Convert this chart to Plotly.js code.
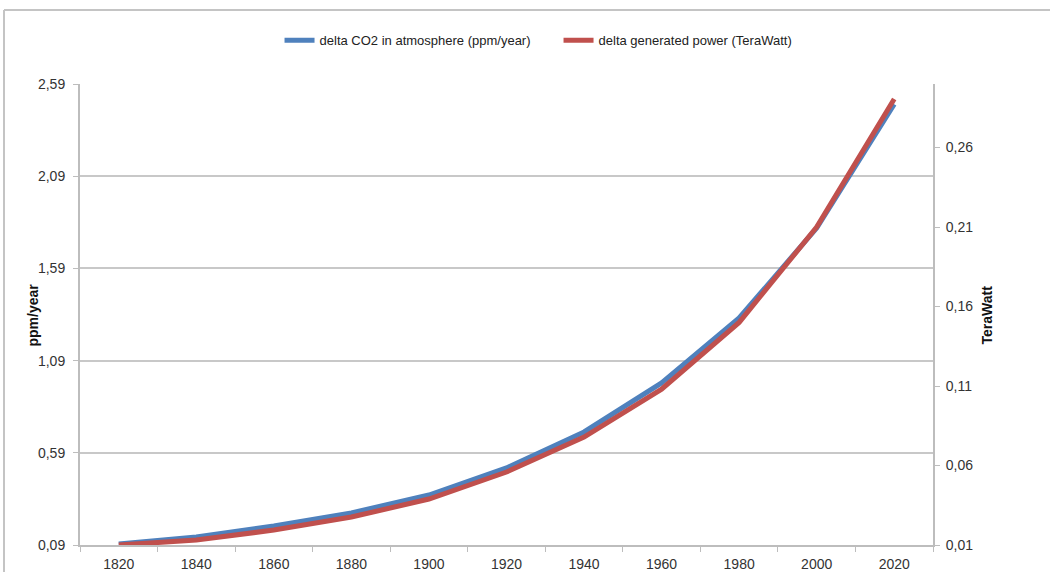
<!DOCTYPE html>
<html>
<head>
<meta charset="utf-8">
<script src="https://cdn.plot.ly/plotly-3.0.1.min.js"></script>
<style>html,body{margin:0;padding:0;background:#fff;}#chart{width:1050px;height:572px;}</style>
</head>
<body>
<div id="chart"></div>
<script>
const years = ["1820","1840","1860","1880","1900","1920","1940","1960","1980","2000","2020"];
const co2Delta = [0.095, 0.133, 0.193, 0.264, 0.361, 0.508, 0.703, 0.969, 1.321, 1.809, 2.48];
const powerDelta = [0.010, 0.0131, 0.0194, 0.0276, 0.0389, 0.0559, 0.0779, 0.108, 0.150, 0.210, 0.2906];
const leftTicks = [0.09, 0.59, 1.09, 1.59, 2.09, 2.59];
const rightTicks = [0.01, 0.06, 0.11, 0.16, 0.21, 0.26];
const leftTitle = "ppm/year";
const rightTitle = "TeraWatt";

const fam = "Liberation Sans Narrow, Liberation Sans, Arial, sans-serif";
const tickFont = {family: fam, size: 14, color: "#333"};

const traces = [
  {x: years, y: co2Delta, type: "scatter", mode: "lines", name: "delta CO2 in atmosphere (ppm/year)",
   line: {color: "#4F81BD", width: 5}, yaxis: "y"},
  {x: years, y: powerDelta, type: "scatter", mode: "lines", name: "delta generated power (TeraWatt)",
   line: {color: "#C0504D", width: 5}, yaxis: "y2"}
];

const layout = {
  width: 1050, height: 572,
  margin: {l: 80, r: 117, t: 84, b: 27},
  paper_bgcolor: "#fff", plot_bgcolor: "#fff",
  separators: ",.",
  font: {family: fam, size: 13, color: "#333"},
  showlegend: true,
  legend: {orientation: "h", x: 0.561, xanchor: "center", y: 1.095, yanchor: "middle",
           font: {family: fam, size: 13, color: "#222"}, itemwidth: 30, entrywidth: 234, tracegroupgap: 0},
  xaxis: {type: "category", range: [-0.5, 10.5], tickson: "boundaries", ticks: "outside", ticklen: 5,
          tickcolor: "#bdbdbd", showline: true, linecolor: "#bdbdbd", linewidth: 2, showgrid: false,
          zeroline: false, tickfont: tickFont, ticklabelstandoff: 5},
  yaxis: {range: [0.09, 2.59], tickvals: leftTicks, tickformat: ".2f", ticks: "outside", ticklen: 5,
          tickcolor: "#bdbdbd", showline: true, linecolor: "#bdbdbd", linewidth: 2,
          showgrid: true, gridcolor: "#c8c8c8", gridwidth: 2, zeroline: false, tickfont: tickFont,
          ticklabelstandoff: 5},
  yaxis2: {range: [0.01, 0.30], tickvals: rightTicks, tickformat: ".2f", overlaying: "y", side: "right",
           ticks: "outside", ticklen: 5, tickcolor: "#bdbdbd", showline: true, linecolor: "#bdbdbd", linewidth: 2,
           showgrid: false, zeroline: false, tickfont: tickFont, ticklabelstandoff: 3},
  annotations: [
    {text: "<b>" + leftTitle + "</b>", xref: "paper", yref: "paper", x: -0.0551, y: 0.5, textangle: -90,
     showarrow: false, xanchor: "center", yanchor: "middle", font: {family: fam, size: 14, color: "#111"}},
    {text: "<b>" + rightTitle + "</b>", xref: "paper", yref: "paper", x: 1.0633, y: 0.5, textangle: -90,
     showarrow: false, xanchor: "center", yanchor: "middle", font: {family: fam, size: 14, color: "#111"}}
  ],
  shapes: [
    {type: "line", xref: "paper", yref: "paper", x0: -0.0891, x1: 1.2, y0: 1.1605, y1: 1.1605,
     line: {color: "#c4c4c4", width: 2}},
    {type: "line", xref: "paper", yref: "paper", x0: -0.0891, x1: -0.0891, y0: -0.1, y1: 1.1605,
     line: {color: "#c4c4c4", width: 2}}
  ]
};

Plotly.newPlot("chart", traces, layout, {displayModeBar: false, staticPlot: true});
</script>
</body>
</html>
